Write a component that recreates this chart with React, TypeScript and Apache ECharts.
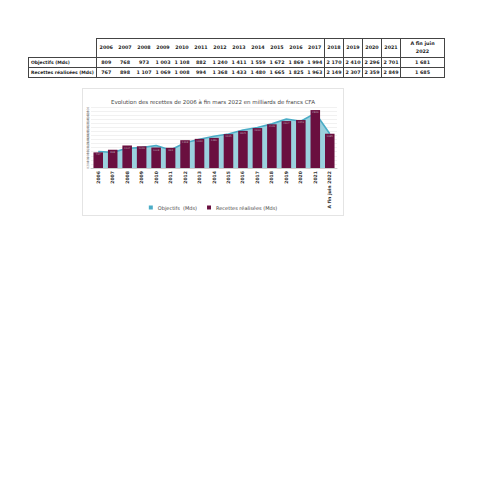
import * as echarts from 'echarts';
import { useEffect, useRef } from 'react';
import type { ECharts } from 'echarts';

const years = [
  '2006', '2007', '2008', '2009', '2010', '2011', '2012', '2013', '2014',
  '2015', '2016', '2017', '2018', '2019', '2020', '2021', 'A fin juin 2022',
];
const objectifs = [
  809, 768, 973, 1003, 1108, 882, 1240, 1411, 1559, 1672, 1869, 1994, 2170,
  2410, 2296, 2701, 1681,
];
const recettes = [
  767, 898, 1107, 1069, 1008, 994, 1368, 1433, 1480, 1665, 1825, 1963, 2149,
  2307, 2359, 2849, 1685,
];
const rowNames = ['Objectifs  (Mds)', 'Recettes réalisées (Mds)'];

const fmt = (v: number) => v.toString().replace(/\B(?=(\d{3})+(?!\d))/g, '\u00a0');

const font = '"DejaVu Sans", "Liberation Sans", sans-serif';
const line = '1px solid #444';

const Table = () => {
  // columns after 2017 get their own borders, like the source sheet
  const cellBorder = (i: number) => (i >= 12 ? line : 'none');
  const cell = (i: number, extra = {}) => ({
    borderLeft: i === 0 ? line : cellBorder(i),
    textAlign: 'center' as const,
    padding: 0,
    overflow: 'hidden',
    whiteSpace: 'nowrap' as const,
    ...extra,
  });
  return (
    <table
      style={{
        position: 'absolute',
        left: 28,
        top: 38,
        width: 416,
        borderCollapse: 'collapse',
        tableLayout: 'fixed',
        fontFamily: font,
        fontWeight: 600,
        fontSize: 4.8,
        color: '#222',
        lineHeight: '8px',
      }}
    >
      <colgroup>
        <col style={{ width: 68 }} />
        {years.map((y, i) => (
          <col key={y} style={{ width: i === years.length - 1 ? 44 : 19 }} />
        ))}
      </colgroup>
      <tbody>
        <tr style={{ height: 19 }}>
          <td style={{ borderBottom: line, padding: 0 }}></td>
          {years.map((y, i) => (
            <td
              key={y}
              style={cell(i, {
                borderTop: line,
                borderBottom: line,
                borderRight: i === years.length - 1 ? line : 'none',
              })}
            >
              {i === years.length - 1 ? (
                <>
                  A fin juin
                  <br />
                  2022
                </>
              ) : (
                y
              )}
            </td>
          ))}
        </tr>
        {[objectifs, recettes].map((row, r) => (
          <tr key={r} style={{ height: 10 }}>
            <td
              style={{
                borderLeft: line,
                borderBottom: line,
                padding: '0 0 0 2px',
                fontSize: 4.5,
                whiteSpace: 'nowrap',
                overflow: 'hidden',
              }}
            >
              {rowNames[r]}
            </td>
            {row.map((v, i) => (
              <td
                key={i}
                style={cell(i, {
                  borderBottom: line,
                  borderRight: i === years.length - 1 ? line : 'none',
                })}
              >
                {fmt(v)}
              </td>
            ))}
          </tr>
        ))}
      </tbody>
    </table>
  );
};

const App = () => {
  const chartRef = useRef<HTMLDivElement>(null);

  useEffect(() => {
    let chart: ECharts | null = null;
    if (chartRef.current !== null) {
      chart = echarts.init(chartRef.current, undefined, { renderer: 'svg' });
    }

    const options = {
      animation: false,
      textStyle: { fontFamily: font },
      title: {
        text: 'Evolution des recettes de 2006 à fin mars 2022 en milliards de francs CFA',
        left: 'center',
        top: 5,
        textStyle: { fontSize: 5.5, fontWeight: 'normal', color: '#444' },
      },
      legend: {
        bottom: 0,
        left: 'center',
        itemWidth: 4,
        itemHeight: 4,
        itemGap: 10,
        icon: 'rect',
        textStyle: { fontSize: 5, color: '#444' },
        data: ['Objectifs  (Mds)', 'Recettes réalisées (Mds)'],
      },
      grid: { left: 8, right: 6, top: 18, bottom: 47 },
      xAxis: {
        type: 'category',
        data: years,
        axisTick: { show: false },
        axisLine: { lineStyle: { color: '#ccc' } },
        axisLabel: {
          rotate: 90,
          interval: 0,
          fontSize: 4.6,
          fontWeight: 600,
          color: '#333',
          margin: 3,
        },
      },
      yAxis: {
        type: 'value',
        min: 0,
        max: 3000,
        interval: 200,
        axisLabel: { rotate: 90, fontSize: 3, color: '#666', margin: 2 },
        splitLine: { lineStyle: { color: '#e3e3e3', width: 0.5 } },
      },
      series: [
        {
          name: 'Objectifs  (Mds)',
          type: 'line',
          data: objectifs,
          z: 1,
          symbol: 'none',
          lineStyle: { color: '#4bacc6', width: 1.6 },
          itemStyle: { color: '#4bacc6' },
          areaStyle: { color: '#9bd1de', opacity: 1 },
        },
        {
          name: 'Recettes réalisées (Mds)',
          type: 'bar',
          data: recettes,
          z: 2,
          barWidth: '66%',
          itemStyle: { color: '#6a0f3f' },
          label: {
            show: true,
            position: 'insideTop',
            fontSize: 2.5,
            color: '#b9a6b3',
            distance: 1,
          },
        },
      ],
    };

    chart?.setOption(options);

    return () => {
      chart?.dispose();
      chart = null;
    };
  }, []);

  return (
    <div
      style={{
        position: 'fixed',
        left: 0,
        top: 0,
        width: 480,
        height: 480,
        background: '#fff',
      }}
    >
      <Table />
      <div
        ref={chartRef}
        style={{
          position: 'absolute',
          left: 82,
          top: 88,
          width: 262,
          height: 128,
          border: '1px solid #e4e4e4',
          boxSizing: 'border-box',
        }}
      ></div>
    </div>
  );
};
export default App;
